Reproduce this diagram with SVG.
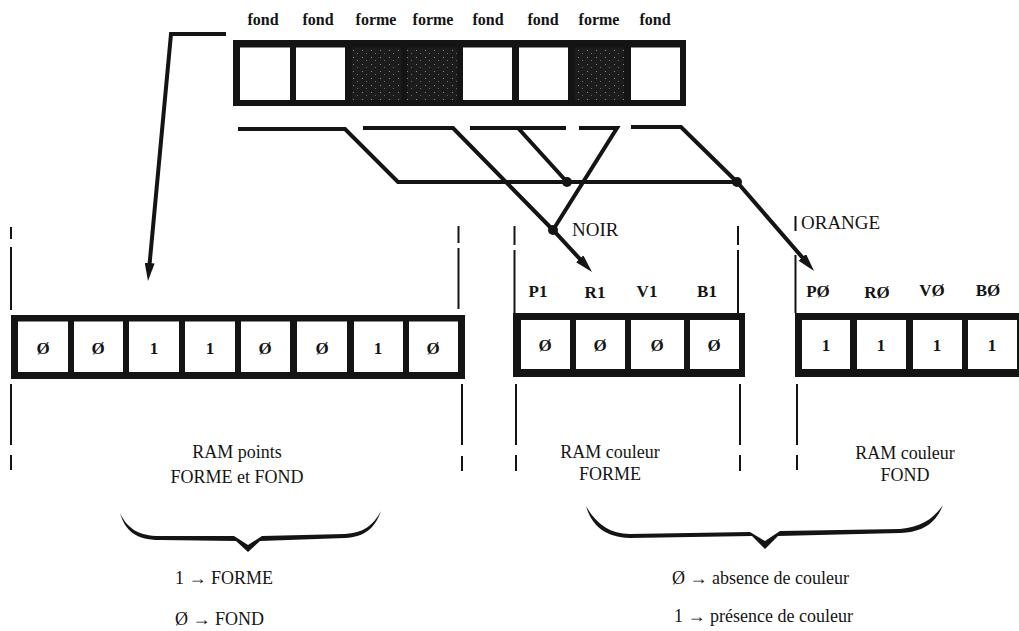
<svg xmlns="http://www.w3.org/2000/svg" width="1019" height="631" viewBox="0 0 1019 631">
<style>
.bar{fill:#141414}
.cell{fill:#fff}
.dark{fill:url(#speck)}
.lbl{font-family:"Liberation Serif","Times New Roman","DejaVu Serif",serif;font-weight:bold;font-size:16px;text-anchor:middle;fill:#141414}
.dig{font-family:"Liberation Serif","Times New Roman","DejaVu Serif",serif;font-weight:bold;font-size:17px;text-anchor:middle;fill:#141414}
.cap{font-family:"Liberation Serif","Times New Roman","DejaVu Serif",serif;font-size:18px;fill:#141414}
.mid{text-anchor:middle}
.conn{fill:none;stroke:#141414;stroke-width:4;stroke-linejoin:miter}
.dash{fill:none;stroke:#141414;stroke-width:2}
.dot{fill:#141414}
.brace{fill:#141414}
</style>
<defs>
<pattern id="speck" width="9" height="7" patternUnits="userSpaceOnUse">
<rect width="9" height="7" fill="#1c1c1c"/>
<rect x="2" y="1" width="1" height="1" fill="#8a8a8a"/>
<rect x="6" y="4" width="1" height="1" fill="#6a6a6a"/>
</pattern>
<marker id="arr" viewBox="0 0 18 10" refX="6" refY="5" markerWidth="18" markerHeight="10" markerUnits="userSpaceOnUse" orient="auto">
<path d="M0,0 L18,5 L0,10 z" fill="#141414"/>
</marker>
</defs>
<rect width="1019" height="631" fill="#fff"/>

<g id="top-bar">
<text class="lbl" x="263" y="25">fond</text>
<text class="lbl" x="318" y="25">fond</text>
<text class="lbl" x="376" y="25">forme</text>
<text class="lbl" x="433" y="25">forme</text>
<text class="lbl" x="488" y="25">fond</text>
<text class="lbl" x="543" y="25">fond</text>
<text class="lbl" x="599" y="25">forme</text>
<text class="lbl" x="655" y="25">fond</text>
<rect class="bar" x="233" y="40" width="453" height="66"/>
<rect class="cell" x="240" y="47.5" width="50" height="52.5"/>
<rect class="cell" x="296" y="47.5" width="49" height="52.5"/>
<rect class="dark" x="352" y="47.5" width="49" height="52.5"/>
<rect class="dark" x="407" y="47.5" width="50" height="52.5"/>
<rect class="cell" x="463" y="47.5" width="49" height="52.5"/>
<rect class="cell" x="519" y="47.5" width="49" height="52.5"/>
<rect class="dark" x="575" y="47.5" width="49" height="52.5"/>
<rect class="cell" x="631" y="47.5" width="49" height="52.5"/>
</g>

<g id="ram-points">
<rect class="bar" x="11" y="315" width="454" height="64"/>
<rect class="cell" x="18" y="321.5" width="50" height="50.5"/>
<rect class="cell" x="74" y="321.5" width="49" height="50.5"/>
<rect class="cell" x="129" y="321.5" width="50" height="50.5"/>
<rect class="cell" x="185" y="321.5" width="50" height="50.5"/>
<rect class="cell" x="241" y="321.5" width="49" height="50.5"/>
<rect class="cell" x="297" y="321.5" width="50" height="50.5"/>
<rect class="cell" x="354" y="321.5" width="49" height="50.5"/>
<rect class="cell" x="409" y="321.5" width="49" height="50.5"/>
<text class="dig" x="43" y="354">Ø</text>
<text class="dig" x="98" y="354">Ø</text>
<text class="dig" x="154" y="354">1</text>
<text class="dig" x="210" y="354">1</text>
<text class="dig" x="265" y="354">Ø</text>
<text class="dig" x="322" y="354">Ø</text>
<text class="dig" x="378" y="354">1</text>
<text class="dig" x="433" y="354">Ø</text>
<text class="cap mid" x="237" y="458">RAM points</text>
<text class="cap mid" x="237" y="483">FORME et FOND</text>
</g>

<g id="ram-forme">
<text class="lbl" x="538" y="297" style="font-size:17px">P1</text>
<text class="lbl" x="595" y="298" style="font-size:17px">R1</text>
<text class="lbl" x="647" y="297" style="font-size:17px">V1</text>
<text class="lbl" x="707" y="297" style="font-size:17px">B1</text>
<rect class="bar" x="513" y="313" width="232" height="64"/>
<rect class="cell" x="521" y="320" width="49" height="49"/>
<rect class="cell" x="576" y="320" width="49" height="49"/>
<rect class="cell" x="631" y="320" width="53" height="49"/>
<rect class="cell" x="690" y="320" width="49" height="49"/>
<text class="dig" x="545" y="351">Ø</text>
<text class="dig" x="600" y="351">Ø</text>
<text class="dig" x="657" y="351">Ø</text>
<text class="dig" x="714" y="351">Ø</text>
<text class="cap mid" x="610" y="458">RAM couleur</text>
<text class="cap mid" x="610" y="480">FORME</text>
</g>

<g id="ram-fond">
<text class="lbl" x="818" y="297" style="font-size:17px">PØ</text>
<text class="lbl" x="877" y="298" style="font-size:17px">RØ</text>
<text class="lbl" x="932" y="296" style="font-size:17px">VØ</text>
<text class="lbl" x="988" y="296" style="font-size:17px">BØ</text>
<rect class="bar" x="795" y="313" width="230" height="64"/>
<rect class="cell" x="802" y="320" width="48" height="49"/>
<rect class="cell" x="857" y="320" width="49" height="49"/>
<rect class="cell" x="913" y="320" width="49" height="49"/>
<rect class="cell" x="968" y="320" width="49" height="49"/>
<text class="dig" x="826" y="351">1</text>
<text class="dig" x="881" y="351">1</text>
<text class="dig" x="937" y="351">1</text>
<text class="dig" x="992" y="351">1</text>
<text class="cap mid" x="905" y="459">RAM couleur</text>
<text class="cap mid" x="905" y="481">FOND</text>
</g>

<g id="guides">
<path class="dash" d="M11,227V239M11,247V310M11,384V445M11,455V470"/>
<path class="dash" d="M458.5,226V243M458.5,248V309M462,384V445M462,456V471"/>
<path class="dash" d="M514.5,226V245M514.5,250V313M516,384V445M516,455V471"/>
<path class="dash" d="M738,226V245M738,250V313M740,384V445M740,455V471"/>
<path class="dash" d="M795.5,216V231M795.5,255V313M797,384V445M797,455V470"/>
</g>

<g id="connectors">
<path class="conn" d="M226,34 L171,34 L149.1,269" marker-end="url(#arr)"/>
<path class="conn" d="M238,129 L345,129 L398,182 L737,182 L806.2,261.9" marker-end="url(#arr)"/>
<path class="conn" d="M363,128 L453,128 L553,230 L583.8,263.2" marker-end="url(#arr)"/>
<path class="conn" d="M470,128 L566,128 M518,128 L567,182"/>
<path class="conn" d="M579,128 L617,128 L553,230"/>
<path class="conn" d="M631,127 L681,127 L737,182"/>
<circle class="dot" cx="567" cy="182" r="5"/>
<circle class="dot" cx="737" cy="182" r="5"/>
<circle class="dot" cx="553" cy="230" r="5"/>
<text class="cap" x="572" y="236" style="font-size:19px">NOIR</text>
<text class="cap" x="801" y="229" style="font-size:19px">ORANGE</text>
</g>

<g id="brace-left">
<path class="brace" d="M120,513 C125,530 135,540 160,540 L236,541 L248,552 L260,541 L345,538 C365,537 375,528 381,511 C373,526 363,533 345,534 L262,536 L248,545 L234,536 L160,536 C138,536 127,528 120,513 Z"/>
<text class="cap" x="175" y="584">1 → FORME</text>
<text class="cap" x="175" y="625">Ø → FOND</text>
</g>

<g id="brace-right">
<path class="brace" d="M586,506 C592,526 605,537 630,538 L752,536 L765,549 L778,536 L900,533 C925,532 936,522 943,505 C934,518 922,527 900,529 L780,531 L765,541 L750,532 L630,534 C610,534 596,524 586,506 Z"/>
<text class="cap" x="672" y="584">Ø → absence de couleur</text>
<text class="cap" x="674" y="622">1 → présence de couleur</text>
</g>
</svg>
